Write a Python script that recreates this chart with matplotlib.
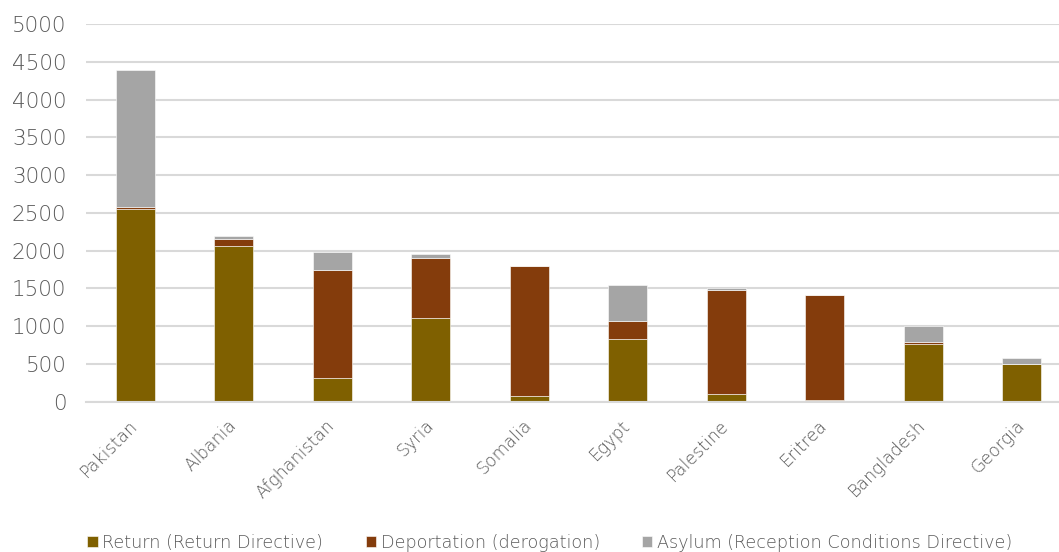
import matplotlib
matplotlib.use("Agg")
import matplotlib.pyplot as plt
import numpy as np

# data
countries = ['Pakistan', 'Albania', 'Afghanistan', 'Syria', 'Somalia',
             'Egypt', 'Palestine', 'Eritrea', 'Bangladesh', 'Georgia']
ret = [2555, 2057, 310, 1104, 75, 830, 102, 22, 768, 503]
deport = [25, 93, 1438, 803, 1718, 238, 1381, 1386, 22, 0]
asylum = [1810, 40, 230, 53, 0, 481, 18, 0, 212, 75]

labels = ['Return (Return Directive)', 'Deportation (derogation)',
          'Asylum (Reception Conditions Directive)']
cols = ['#7F6000', '#843C0C', '#A5A5A5']
txt = '#595959'

plt.rcParams['font.family'] = ['DejaVu Sans']

fig = plt.figure(figsize=(10.59, 5.52), dpi=100)
ax = fig.add_axes([86/1059, 150.3/552, 985/1059, 377.7/552])

x = np.arange(len(countries))
w = 0.4
b1 = ax.bar(x, ret, w, color=cols[0], label=labels[0], edgecolor='white', linewidth=0.4)
b2 = ax.bar(x, deport, w, bottom=ret, color=cols[1], label=labels[1], edgecolor='white', linewidth=0.4)
bot = np.array(ret) + np.array(deport)
b3 = ax.bar(x, asylum, w, bottom=bot, color=cols[2], label=labels[2], edgecolor='white', linewidth=0.4)

ax.set_xlim(-0.5, len(countries) - 0.5)
ax.set_ylim(0, 5000)
ax.set_yticks(range(0, 5001, 500))
ax.yaxis.grid(True, color='#D9D9D9', linewidth=1.5)
ax.set_axisbelow(True)
for s in ['top', 'right', 'left']:
    ax.spines[s].set_visible(False)
ax.spines['bottom'].set_color('#D9D9D9')
ax.spines['bottom'].set_linewidth(1.5)
ax.tick_params(axis='y', length=0, pad=14, labelsize=15.5, labelcolor=txt)
ax.tick_params(axis='x', length=0, pad=15, labelcolor=txt)
for t in ax.get_yticklabels():
    t.set_fontweight('light')

ax.set_xticks(x)
ax.set_xticklabels(countries, rotation=45, ha='right', va='center',
                   rotation_mode='anchor', fontsize=12.5, color=txt,
                   fontweight='light')

leg = fig.legend(handles=[b1, b2, b3], labels=labels, loc='lower center',
                 bbox_to_anchor=(550/1059, -0.028), ncol=3, frameon=False,
                 fontsize=12.7, labelcolor=txt, handlelength=0.57, handleheight=0.57,
                 handletextpad=0.28, columnspacing=2.4)
for t in leg.get_texts():
    t.set_fontweight('light')

fig.savefig('out.png', dpi=100)
